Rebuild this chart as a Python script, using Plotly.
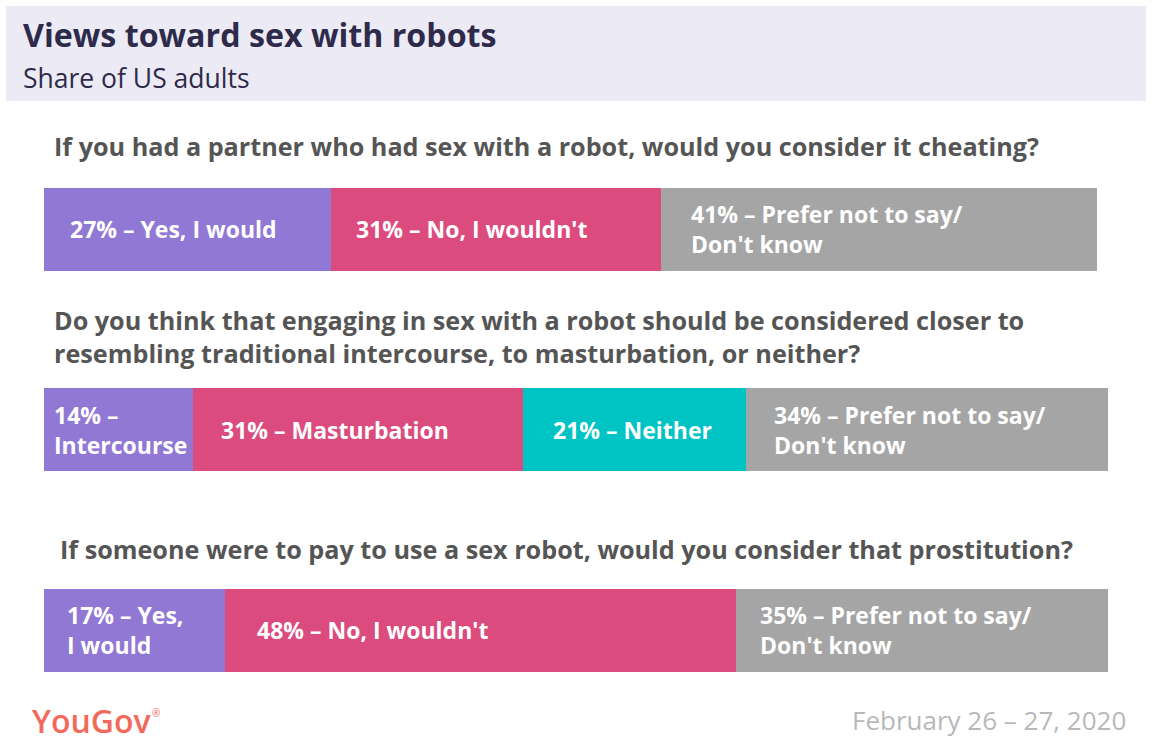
import plotly.graph_objects as go

# ---------------- data ----------------
questions = [
    "If you had a partner who had sex with a robot, would you consider it cheating?",
    "Do you think that engaging in sex with a robot should be considered closer to<br>resembling traditional intercourse, to masturbation, or neither?",
    "If someone were to pay to use a sex robot, would you consider that prostitution?",
]
series_names = ["Yes / Intercourse", "No / Masturbation", "Neither", "Prefer not to say / Don't know"]
yes_vals = [27, 14, 17]
no_vals = [31, 31, 48]
neither_vals = [None, 21, None]
dk_vals = [41, 34, 35]

yes_text = ["Yes, I would", "<br>Intercourse", "Yes,<br>I would"]
no_text = ["No, I wouldn't", "Masturbation", "No, I wouldn't"]
neither_text = [None, "Neither", None]
dk_text = ["Prefer not to say/<br>Don't know"] * 3

# ---------------- style ----------------
FONT = "Open Sans"
colors = ["#9178d5", "#dc4b7e", "#00c4c4", "#a5a5a5"]
pads = [[24, 23, None, 28], [8, 26, 28, 26], [21, 30, None, 22]]

W, H = 1156, 748
ML, MR, MT, MB = 44, 48, 110, 58
PW, PH = W - ML - MR, H - MT - MB


def px(x):
    return (x - ML) / PW


def py(y):
    return (H - MB - y) / PH


series = [yes_vals, no_vals, neither_vals, dk_vals]
texts = [yes_text, no_text, neither_text, dk_text]
ypos = list(range(len(questions)))

fig = go.Figure()
for name, vals, col in zip(series_names, series, colors):
    fig.add_trace(go.Bar(
        y=ypos, x=vals, name=name, orientation="h",
        marker=dict(color=col, line=dict(width=0)),
        width=0.414, hoverinfo="x+name",
    ))

annotations = []
for qi in ypos:
    start = 0
    for si, (vals, txts) in enumerate(zip(series, texts)):
        v = vals[qi]
        t = txts[qi]
        if v and t:
            if t.startswith("<br>"):
                label = f"{v}% –{t}"
            else:
                label = f"{v}% – {t}"
            annotations.append(dict(
                x=start, y=qi, xref="x", yref="y", text=label,
                xanchor="left", yanchor="middle", align="left",
                xshift=pads[qi][si], showarrow=False,
                font=dict(family=FONT, size=23, color="white", weight="bold"),
            ))
        if v:
            start += v

# question texts
q_pos = [(52, 146), (52, 336), (58, 549)]
for q, (x0, y0) in zip(questions, q_pos):
    annotations.append(dict(
        x=px(x0), y=py(y0), xref="paper", yref="paper", text=q,
        xanchor="left", yanchor="middle", align="left", showarrow=False,
        font=dict(family=FONT, size=25.2, color="#555555", weight="bold"),
    ))

# title / subtitle
annotations.append(dict(
    x=px(21), y=py(35), xref="paper", yref="paper",
    text="Views toward sex with robots", xanchor="left", yanchor="middle",
    showarrow=False, font=dict(family=FONT, size=32.2, color="#2d2a4a", weight="bold"),
))
annotations.append(dict(
    x=px(21), y=py(78), xref="paper", yref="paper",
    text="Share of US adults", xanchor="left", yanchor="middle",
    showarrow=False, font=dict(family=FONT, size=26.5, color="#2d2a4a"),
))
# footer
annotations.append(dict(
    x=px(30), y=py(720), xref="paper", yref="paper",
    text="YouGov", xanchor="left", yanchor="middle",
    showarrow=False, font=dict(family=FONT, size=32, color="#f26a5b", weight=600),
))
annotations.append(dict(
    x=px(156), y=py(713), xref="paper", yref="paper",
    text="®", xanchor="center", yanchor="middle",
    showarrow=False, font=dict(family=FONT, size=10, color="#f26a5b"),
))
annotations.append(dict(
    x=px(1128), y=py(720), xref="paper", yref="paper",
    text="February 26 – 27, 2020", xanchor="right", yanchor="middle",
    showarrow=False, font=dict(family=FONT, size=26, color="#b8b8b8"),
))

shapes = [dict(
    type="rect", xref="paper", yref="paper",
    x0=px(6), x1=px(1146), y0=py(101), y1=py(6),
    fillcolor="#eceaf4", line=dict(width=0), layer="below",
)]

fig.update_layout(
    width=W, height=H,
    margin=dict(l=ML, r=MR, t=MT, b=MB, pad=0),
    barmode="stack", bargap=0,
    showlegend=False,
    paper_bgcolor="white", plot_bgcolor="white",
    xaxis=dict(range=[0, 100], visible=False, fixedrange=True),
    yaxis=dict(range=[2.297, -0.596], visible=False, fixedrange=True),
    annotations=annotations, shapes=shapes,
    font=dict(family=FONT),
)

fig.write_html(
    "out.html",
    config={"displayModeBar": False},
    post_script="document.body.style.margin='0';",
)
